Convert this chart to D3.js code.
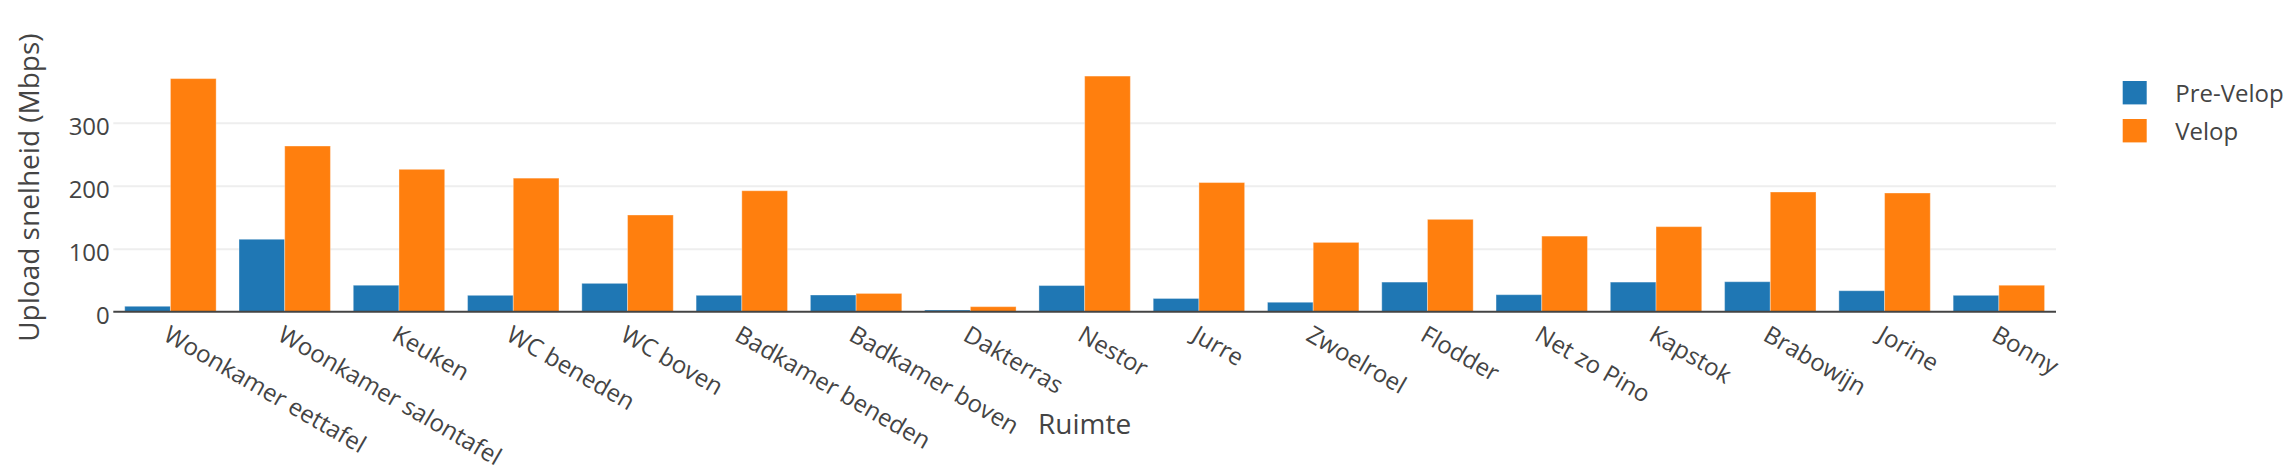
<!DOCTYPE html>
<html>
<head>
<meta charset="utf-8">
<script src="https://cdn.jsdelivr.net/npm/d3@7"></script>
<style>
  html, body { margin: 0; padding: 0; background: #fff; }
  svg { display: block; font-family: "Open Sans", verdana, arial, sans-serif; }
</style>
</head>
<body>
<svg id="chart" width="2284" height="468"></svg>
<script>
const categories = ["Woonkamer eettafel", "Woonkamer salontafel", "Keuken", "WC beneden", "WC boven",
  "Badkamer beneden", "Badkamer boven", "Dakterras", "Nestor", "Jurre", "Zwoelroel", "Flodder",
  "Net zo Pino", "Kapstok", "Brabowijn", "Jorine", "Bonny"];
const seriesNames = ["Pre-Velop", "Velop"];
const preVelop = [8.6, 115, 42, 26, 45, 26, 26.5, 2.7, 41.5, 21, 15, 47, 27, 47, 47.6, 33.3, 26];
const velop = [370, 263, 226, 212, 153.5, 192, 29, 8, 374, 205, 110, 146.6, 120, 135, 190, 188.4, 42];
const yTicks = [0, 100, 200, 300];
const colors = ["#1f77b4", "#ff7f0e"];
const xTitle = "Ruimte";
const yTitle = "Upload snelheid (Mbps)";

const svg = d3.select("#chart");
const left = 113.3, right = 2056, y0 = 311.7;

const x0 = d3.scaleBand().domain(categories).range([left, right]).paddingInner(0.2).paddingOuter(0.1);
const x1 = d3.scaleBand().domain(seriesNames).range([0, x0.bandwidth()]);
const y = d3.scaleLinear().domain([0, 100]).range([y0, y0 - 63]);

// gridlines + y tick labels
const yAxis = d3.axisLeft(y).tickValues(yTicks).tickSize(-(right - left)).tickFormat(d3.format("d")).tickPadding(0);
const gy = svg.append("g").attr("transform", `translate(${left},0)`).call(yAxis);
gy.select(".domain").remove();
gy.selectAll(".tick line").attr("stroke", "#eee").attr("stroke-width", 2);
gy.selectAll(".tick text").attr("x", -3.5).attr("dy", 11.6).attr("fill", "#444")
  .attr("font-size", 24).attr("font-family", "Open Sans").attr("text-anchor", "end");
gy.selectAll(".tick").filter(d => d === 0).select("line").attr("stroke", "none");

// bars
const data = categories.map((c, i) => ({ cat: c, vals: [preVelop[i], velop[i]] }));
const groups = svg.append("g").selectAll("g").data(data).join("g")
  .attr("transform", d => `translate(${x0(d.cat)},0)`);
groups.selectAll("rect").data(d => d.vals.map((v, j) => ({ v, s: seriesNames[j], j })))
  .join("rect")
  .attr("x", d => x1(d.s))
  .attr("width", x1.bandwidth())
  .attr("y", d => y(d.v))
  .attr("height", d => y(0) - y(d.v))
  .attr("fill", d => colors[d.j])
  .attr("stroke", "rgba(255,255,255,0.35)")
  .attr("stroke-width", 1);

// zero line
svg.append("line").attr("x1", left).attr("x2", right).attr("y1", y(0)).attr("y2", y(0))
  .attr("stroke", "#444").attr("stroke-width", 2);

// x labels
const xAxis = d3.axisBottom(x0).tickSize(0).tickPadding(0);
const gx = svg.append("g").call(xAxis);
gx.select(".domain").remove();
gx.selectAll(".tick text")
  .attr("y", 0).attr("dy", 0)
  .attr("transform", "translate(-8.5,339.5) rotate(30)")
  .attr("text-anchor", "start").attr("fill", "#444")
  .attr("font-size", 24).attr("font-family", "Open Sans");

// axis titles
svg.append("text").attr("x", (left + right) / 2).attr("y", 434).attr("text-anchor", "middle")
  .attr("font-size", 28).attr("fill", "#444").text(xTitle);
svg.append("text").attr("transform", `translate(38.5,187.6) rotate(-90)`).attr("text-anchor", "middle")
  .attr("font-size", 28).attr("fill", "#444").text(yTitle);

// legend
const legend = svg.append("g").selectAll("g").data(seriesNames).join("g")
  .attr("transform", (d, i) => `translate(2122.7,${92.7 + i * 38})`);
legend.append("rect").attr("x", 0).attr("y", -11.7).attr("width", 24).attr("height", 23.4)
  .attr("fill", (d, i) => colors[i]);
legend.append("text").attr("x", 52.5).attr("y", 9).attr("font-size", 24).attr("fill", "#444").text(d => d);
</script>
</body>
</html>
